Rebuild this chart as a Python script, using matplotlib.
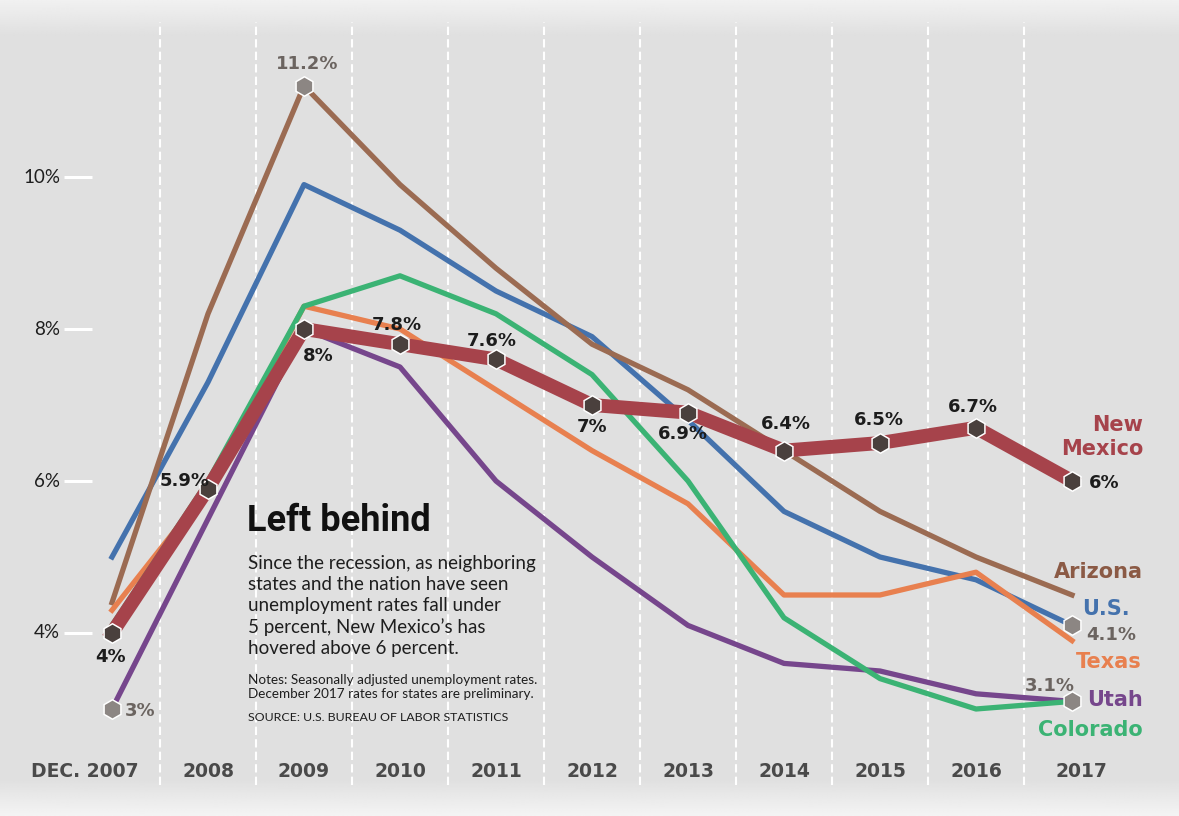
import numpy as np
import matplotlib.pyplot as plt

# dane: stopa bezrobocia (%), grudzien kazdego roku
years = ['DEC. 2007', '2008', '2009', '2010', '2011', '2012',
         '2013', '2014', '2015', '2016', '2017']
new_mexico = [4.0, 5.9, 8.0, 7.8, 7.6, 7.0, 6.9, 6.4, 6.5, 6.7, 6.0]
arizona = [4.4, 8.2, 11.2, 9.9, 8.8, 7.8, 7.2, 6.4, 5.6, 5.0, 4.5]
us = [5.0, 7.3, 9.9, 9.3, 8.5, 7.9, 6.8, 5.6, 5.0, 4.7, 4.1]
texas = [4.3, 5.9, 8.3, 8.0, 7.2, 6.4, 5.7, 4.5, 4.5, 4.8, 3.9]
colorado = [4.1, 6.0, 8.3, 8.7, 8.2, 7.4, 6.0, 4.2, 3.4, 3.0, 3.1]
utah = [3.0, 5.5, 8.0, 7.5, 6.0, 5.0, 4.1, 3.6, 3.5, 3.2, 3.1]
yticks = [4, 6, 8, 10]

W, H = 1179, 816
fig = plt.figure(figsize=(W / 100, H / 100), dpi=100, facecolor='#e0e0e0')
ax = fig.add_axes([0, 0, 1, 1])

# przeliczanie pikseli na wspolrzedne danych
def X(px):
    return (px - 112) / 96.0

def Y(py):
    return 10 - (py - 177) / 76.0

ax.set_xlim(X(0), X(W))
ax.set_ylim(Y(H), Y(0))
ax.axis('off')

# tlo z gradientem (tylko gora i dol)
top = np.linspace(0.945, 0.878, 36)[:, None].repeat(4, axis=1)
bot = np.linspace(0.878, 0.955, 36)[:, None].repeat(4, axis=1)
ax.imshow(top, cmap='gray', vmin=0, vmax=1, extent=[X(-5), X(W + 5), Y(36), Y(0)],
          aspect='auto', interpolation='bilinear', zorder=0)
ax.imshow(bot, cmap='gray', vmin=0, vmax=1, extent=[X(-5), X(W + 5), Y(H), Y(780)],
          aspect='auto', interpolation='bilinear', zorder=0)
ax.set_xlim(X(0), X(W))
ax.set_ylim(Y(H), Y(0))

x = np.arange(len(years))

# przerywane linie pionowe miedzy latami
ax.vlines(x[:-1] + 0.5, Y(785), Y(22), colors='white', lw=1.5,
          linestyles=(0, (4, 2)), zorder=1)

# os y - kreski i podpisy
ax.hlines(yticks, X(64), X(92), colors='white', lw=2.2, zorder=1)
for v in yticks:
    ax.text(X(60), v, '%d%%' % v, ha='right', va='center', fontsize=13.5,
            family=['Lato', 'DejaVu Sans'], color='#1e1e1e')

# podpisy lat
for i, lab in enumerate(years):
    xx = i if i < len(years) - 1 else i + 0.1
    if i == 0:
        xx = X(85)
    ax.text(xx, Y(771), lab, ha='center', va='center', fontsize=13.5,
            fontweight='bold', color='#4a4a4a', family='DejaVu Sans')

# linie
lw_thin = 3.8
ax.plot(x, utah, color='#76468c', lw=lw_thin, zorder=2)
ax.plot(x, us, color='#4472ad', lw=lw_thin, zorder=3)
ax.plot(x, arizona, color='#9b6b52', lw=lw_thin, zorder=4)
ax.plot(x, texas, color='#e8804f', lw=lw_thin, zorder=5)
ax.plot(x, colorado, color='#3bb374', lw=lw_thin, zorder=6)
ax.plot(x, new_mexico, color='#a6434b', lw=10, zorder=7)

# znaczniki
dark = '#4a403d'
grey = '#8c8683'
ms = 14
ax.plot(x, new_mexico, 'h', ms=ms, mfc=dark, mec='white', mew=1.1, zorder=8)
ax.plot([x[2]], [arizona[2]], 'h', ms=ms, mfc=grey, mec='white', mew=1.1, zorder=8)
ax.plot([x[0]], [utah[0]], 'h', ms=ms, mfc=grey, mec='white', mew=1.1, zorder=8)
ax.plot([x[-1]], [us[-1]], 'h', ms=ms, mfc=grey, mec='white', mew=1.1, zorder=8)
ax.plot([x[-1]], [utah[-1]], 'h', ms=ms, mfc=grey, mec='white', mew=1.1, zorder=8)

# etykiety wartosci Nowego Meksyku
nm_off = [(-2, -24), (-23, 8), (14, -27), (-3, 19), (-4, 18), (0, -22),
          (-5, -21), (2, 27), (-1, 23), (-3, 21), (17, -2)]
for i, v in enumerate(new_mexico):
    lab = ('%.1f' % v).rstrip('0').rstrip('.') + '%'
    ha = 'left' if i == len(new_mexico) - 1 else 'center'
    ax.annotate(lab, (x[i], v), xytext=nm_off[i], textcoords='offset pixels',
                ha=ha, va='center', fontsize=13, fontweight='bold',
                color='#1c1c1c', family='DejaVu Sans', zorder=9)

lbl_grey = '#6b6460'
ax.annotate('11.2%', (x[2], arizona[2]), xytext=(3, 22), textcoords='offset pixels',
            ha='center', va='center', fontsize=13, fontweight='bold', color=lbl_grey)
ax.annotate('3%', (x[0], utah[0]), xytext=(13, -2), textcoords='offset pixels',
            ha='left', va='center', fontsize=13, fontweight='bold', color=lbl_grey)
ax.annotate('4.1%', (x[-1], us[-1]), xytext=(14, -10), textcoords='offset pixels',
            ha='left', va='center', fontsize=13, fontweight='bold', color=lbl_grey)
ax.annotate('3.1%', (x[-1], utah[-1]), xytext=(-22, 15), textcoords='offset pixels',
            ha='center', va='center', fontsize=13, fontweight='bold', color=lbl_grey)

# nazwy serii
series_lbl = [('New', new_mexico, '#a6434b', (71, 56)),
              ('Mexico', new_mexico, '#a6434b', (71, 32)),
              ('Arizona', arizona, '#8b5a45', (71, 23)),
              ('U.S.', us, '#4472ad', (58, 16)),
              ('Texas', texas, '#e8804f', (70, -21)),
              ('Utah', utah, '#76468c', (71, 1)),
              ('Colorado', colorado, '#3bb374', (71, -29))]
for name, vals, col, off in series_lbl:
    ax.annotate(name, (x[-1], vals[-1]), xytext=off, textcoords='offset pixels',
                ha='right', va='center', fontsize=15, fontweight='bold', color=col)

# tytul i opis
ax.text(X(247), Y(521), 'Left behind', ha='left', va='center', fontsize=26,
        fontweight='bold', color='#111111',
        family=['Liberation Sans Narrow', 'Roboto', 'DejaVu Sans'])
body = ['Since the recession, as neighboring',
        'states and the nation have seen',
        'unemployment rates fall under',
        '5 percent, New Mexico\u2019s has',
        'hovered above 6 percent.']
for k, line in enumerate(body):
    ax.text(X(248), Y(563 + 21.3 * k), line, ha='left', va='center',
            fontsize=13.5, color='#1e1e1e', family=['Lato', 'DejaVu Sans'])
notes = ['Notes: Seasonally adjusted unemployment rates.',
         'December 2017 rates for states are preliminary.']
for k, line in enumerate(notes):
    ax.text(X(248), Y(680 + 13.5 * k), line, ha='left', va='center',
            fontsize=9.7, color='#1e1e1e', family=['Lato', 'DejaVu Sans'])
ax.text(X(248), Y(717), 'SOURCE: U.S. BUREAU OF LABOR STATISTICS', ha='left',
        va='center', fontsize=8.9, color='#1e1e1e', family=['Lato', 'DejaVu Sans'])

plt.savefig('out.png', dpi=100, facecolor=fig.get_facecolor())
